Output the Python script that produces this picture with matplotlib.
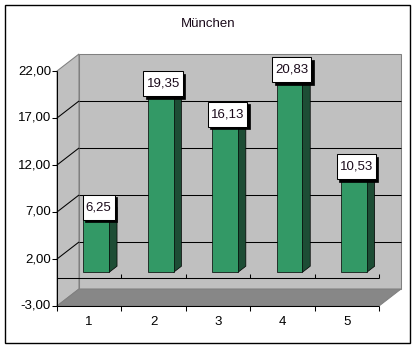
import matplotlib
matplotlib.use("Agg")
import matplotlib.pyplot as plt
from matplotlib.patches import Polygon, Rectangle

# data
categories = ["1", "2", "3", "4", "5"]
values = [6.25, 19.35, 16.13, 20.83, 10.53]
value_ticks = [-3, 2, 7, 12, 17, 22]
title = "München"

FONT = "Liberation Sans"
FS = 9.5

# pixel geometry of the front plane (Excel-like oblique 3D)
PX_CAT = 64.4   # px per category
PX_VAL = 9.4    # px per value unit
X0_PX, Y0_PX = 57, 306   # px of (0.5, -3) on the front plane
W, H = 416, 349
DX = 22 / PX_CAT   # full depth offset in category units
DY = 17 / PX_VAL   # full depth offset in value units
VMIN, VMAX = value_ticks[0], value_ticks[-1]
CMIN, CMAX = 0.5, len(categories) + 0.5


def P(c, v, d):
    """oblique projection: category, value, depth(0 front .. 1 back)"""
    return (c + d * DX, v + d * DY)


def poly(ax, pts, fc, ec="none", lw=0.75, z=1):
    ax.add_patch(Polygon(pts, closed=True, facecolor=fc, edgecolor=ec,
                         linewidth=lw, zorder=z))


def line(ax, a, b, color="black", lw=0.75, z=2):
    ax.plot([a[0], b[0]], [a[1], b[1]], color=color, lw=lw, zorder=z,
            solid_capstyle="butt")


fig = plt.figure(figsize=(W / 100, H / 100), dpi=100)
fig.patch.set_facecolor("white")
ax = fig.add_axes([0, 0, 1, 1])
ax.set_xlim(CMIN - X0_PX / PX_CAT, CMIN + (W - X0_PX) / PX_CAT)
ax.set_ylim(VMIN - (H - Y0_PX) / PX_VAL, VMIN + Y0_PX / PX_VAL)
ax.axis("off")

# chart border
fig.patches.append(Rectangle((5 / W, (H - 343) / H), 405 / W, 338 / H,
                             transform=fig.transFigure, fill=False,
                             edgecolor="black", linewidth=1.0))
fig.text(208 / W, 1 - 24 / H, title, ha="center", va="center",
         family=FONT, fontsize=FS, color="#1a0a1a")

wall = "#c0c0c0"
edge = "#808080"
# walls and floor
poly(ax, [P(CMIN, VMIN, 0), P(CMIN, VMAX, 0), P(CMIN, VMAX, 1), P(CMIN, VMIN, 1)],
     wall, edge)
poly(ax, [P(CMIN, VMIN, 1), P(CMAX, VMIN, 1), P(CMAX, VMAX, 1), P(CMIN, VMAX, 1)],
     wall, edge)
poly(ax, [P(CMIN, VMIN, 0), P(CMAX, VMIN, 0), P(CMAX, VMIN, 1), P(CMIN, VMIN, 1)],
     "#878787", edge)

# gridlines
for v in value_ticks[1:-1]:
    line(ax, P(CMIN, v, 0), P(CMIN, v, 1))
    line(ax, P(CMIN, v, 1), P(CMAX, v, 1))

# value axis
line(ax, P(CMIN, VMIN, 0), P(CMIN, VMAX, 0), z=3)
tick_c = 5 / PX_CAT
for v in value_ticks:
    line(ax, P(CMIN - tick_c, v, 0), P(CMIN, v, 0), z=3)
    ax.text(CMIN - 6 / PX_CAT, v, f"{v:.2f}".replace(".", ","), ha="right",
            va="center", family=FONT, fontsize=FS)

# category axis (floor front edge) and zero line
tick_v = 5 / PX_VAL
line(ax, P(CMIN, VMIN, 0), P(CMAX, VMIN, 0), z=3)
line(ax, P(CMIN, 0, 0), P(CMAX, 0, 0), z=2)
for k in range(len(categories) + 1):
    c = CMIN + k
    line(ax, P(c, VMIN, 0), P(c, VMIN - tick_v, 0), z=3)
    if k > 0:
        line(ax, P(c, 0, 0), P(c, 0.4, 0), z=2)
for i, lab in enumerate(categories):
    ax.text(i + 1, VMIN - 16 / PX_VAL, lab, ha="center", va="center",
            family=FONT, fontsize=FS)

# bars
front = "#339966"
side = "#1d4d35"
top = "#26744d"
bw = 0.2
d0, d1 = 0.32, 0.68
for i, v in enumerate(values):
    c = i + 1
    a, b = c - bw, c + bw
    poly(ax, [P(b, 0, d0), P(b, 0, d1), P(b, v, d1), P(b, v, d0)], side, "black", 0.5, 4)
    poly(ax, [P(a, v, d0), P(b, v, d0), P(b, v, d1), P(a, v, d1)], top, "black", 0.5, 4)
    poly(ax, [P(a, 0, d0), P(b, 0, d0), P(b, v, d0), P(a, v, d0)], front, "black", 0.5, 4)

# data labels: white box with black drop shadow
texts = []
for i, v in enumerate(values):
    cx, cy = P(i + 1, v, 0.5)
    cx -= 1.5 / PX_CAT
    cy += 3.5 / PX_VAL
    t = ax.text(cx, cy, f"{v:.2f}".replace(".", ","), ha="center", va="center",
                family=FONT, fontsize=FS, color="#1a0a1a", zorder=7)
    texts.append((t, cx, cy))

fig.canvas.draw()
renderer = fig.canvas.get_renderer()
for t, cx, cy in texts:
    bw_px = t.get_window_extent(renderer).width + 6
    bh_px = 25
    w, h = bw_px / PX_CAT, bh_px / PX_VAL
    ax.add_patch(Rectangle((cx - w / 2 + 2.5 / PX_CAT, cy - h / 2 - 2.5 / PX_VAL), w, h,
                           facecolor="black", edgecolor="black", lw=0.5, zorder=5))
    ax.add_patch(Rectangle((cx - w / 2, cy - h / 2), w, h,
                           facecolor="white", edgecolor="black", lw=0.75, zorder=6))

fig.savefig("out.png", dpi=100)
